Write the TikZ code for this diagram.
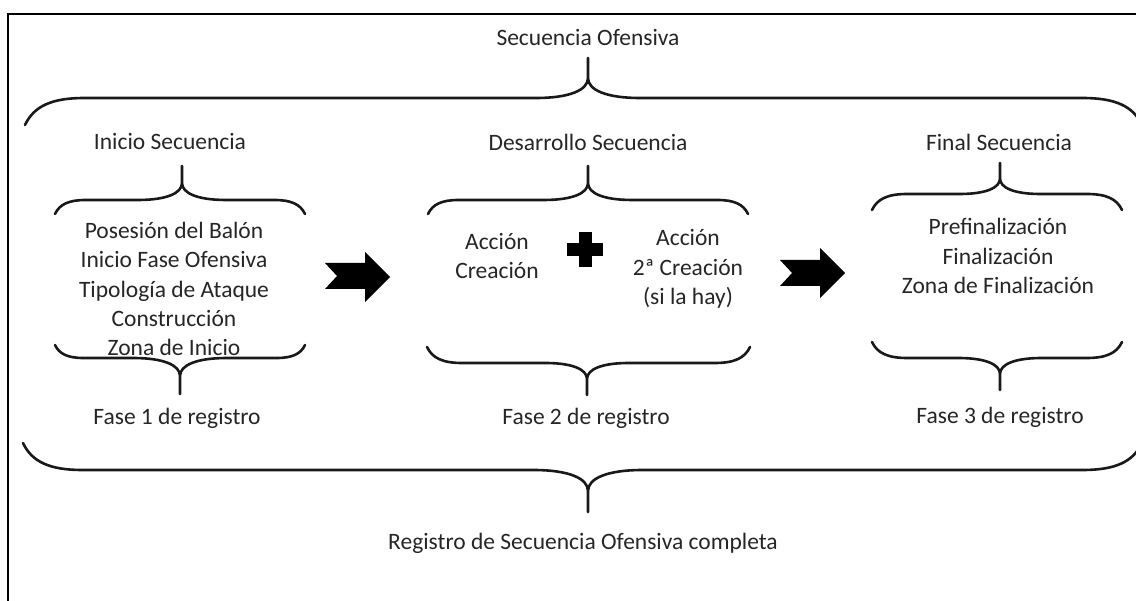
\documentclass[tikz,border=0pt]{standalone}
\usepackage{fontspec}
\setmainfont{Carlito}
\tikzset{
  txt/.style={font=\fontsize{23.5}{29.2}\selectfont, text=black!85, align=center, inner sep=0pt},
  bracestyle/.style={line width=2.6pt, line cap=round, line join=round, draw=black!90},
  blockarrow/.style={fill=black, draw=none},
  plusmark/.style={fill=black, draw=none},
  frameline/.style={line width=2.5pt, draw=black}
}
% #1 xl, #2 xr, #3 y of line, #4 x of cusp, #5 y of cusp tip, #6 y of the two ends
\newcommand{\cbrace}[6]{%
  \pgfmathsetmacro\brD{#6-#3}%
  \pgfmathsetmacro\brT{#5-#3}%
  \pgfmathsetmacro\brW{2.2*abs(\brD)}%
  \pgfmathsetmacro\brC{1.3*abs(\brT)}%
  \draw[bracestyle]
    (#1,#3+\brD) .. controls (#1+0.15*\brW,#3+0.3*\brD) and (#1+0.45*\brW,#3) .. (#1+\brW,#3)
    -- (#4-\brC,#3) .. controls (#4-0.35*\brC,#3) and (#4,#3+0.2*\brT) .. (#4,#3+0.5*\brT)
    -- (#4,#5)
    (#4,#3+0.5*\brT) .. controls (#4,#3+0.2*\brT) and (#4+0.35*\brC,#3) .. (#4+\brC,#3)
    -- (#2-\brW,#3) .. controls (#2-0.45*\brW,#3) and (#2-0.15*\brW,#3+0.3*\brD) .. (#2,#3+\brD);
}
\begin{document}
\begin{tikzpicture}[x=1pt,y=-1pt]
\useasboundingbox (0,0) rectangle (1136,601);
\fill[white] (0,0) rectangle (1136,601);
% frame
\draw[frameline] (8,615) -- (8,14) -- (1150,14);
% texts
\node[txt] (so) at (588,38) {Secuencia Ofensiva};
\node[txt] (is) at (170,142) {Inicio Secuencia};
\node[txt] (ds) at (588,142) {Desarrollo Secuencia};
\node[txt] (fs) at (999,142) {Final Secuencia};
\node[txt] (il) at (174,289) {Posesión del Balón\\Inicio Fase Ofensiva\\Tipología de Ataque\\Construcción\\Zona de Inicio};
\node[txt] (a1) at (497,256) {Acción\\Creación};
\node[txt] (a2) at (688,269) {Acción\\2ª Creación\\(si la hay)};
\node[txt] (fl) at (998,256) {Prefinalización\\Finalización\\Zona de Finalización};
\node[txt] (f1) at (177,418) {Fase 1 de registro};
\node[txt] (f2) at (586,418) {Fase 2 de registro};
\node[txt] (f3) at (1000,417) {Fase 3 de registro};
\node[txt] (rg) at (583,543) {Registro de Secuencia Ofensiva completa};
% braces
\cbrace{25}{1142}{98}{588}{58}{125}
\cbrace{23}{1142}{470}{588}{512}{443}
\cbrace{55}{305}{200}{182}{166}{214}
\cbrace{55}{305}{358}{180}{394}{345}
\cbrace{428}{748}{200}{588}{166}{214}
\cbrace{427}{750}{363}{587}{395}{347}
\cbrace{872}{1122}{194}{1000}{163}{210}
\cbrace{872}{1122}{358}{1000}{390}{342}
% block arrows
\fill[blockarrow] (325,263) -- (365,263) -- (365,252) -- (390,277) -- (365,302) -- (365,289) -- (325,289) -- (337,276) -- cycle;
\fill[blockarrow] (780,260) -- (820,260) -- (820,248) -- (845,273) -- (820,298) -- (820,286) -- (780,286) -- (792,273) -- cycle;
% plus sign
\fill[plusmark] (579,232) rectangle (592,267);
\fill[plusmark] (567,243) rectangle (603,256);
\end{tikzpicture}
\end{document}
